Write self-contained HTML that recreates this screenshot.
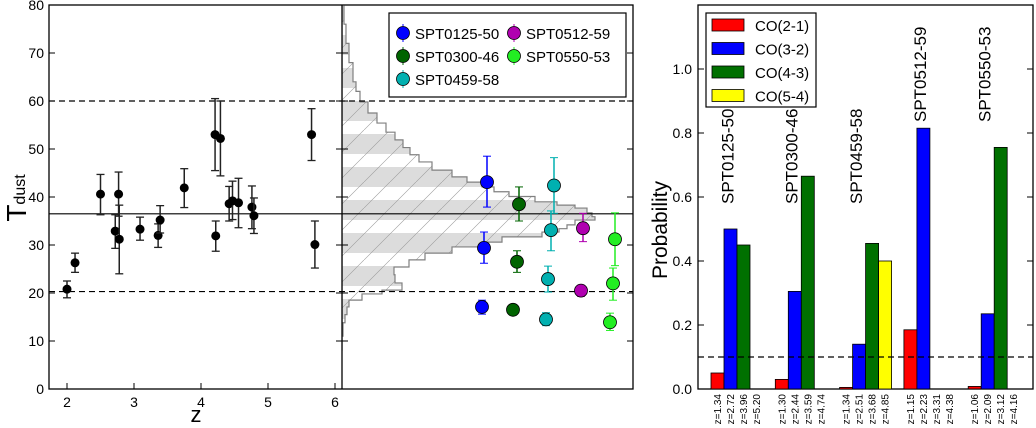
<!DOCTYPE html>
<html><head><meta charset="utf-8"><style>
body{margin:0;background:#fff;}
svg{display:block;font-family:"Liberation Sans",sans-serif;}
</style></head><body>
<svg id="c" width="1036" height="428" viewBox="0 0 1036 428">
<defs>
<pattern id="hatch" patternUnits="userSpaceOnUse" width="40" height="33" y="2">
<rect width="40" height="33" fill="#fff"/>
<rect y="0" width="40" height="20" fill="#dcdcdc"/>
</pattern>
<pattern id="diag" patternUnits="userSpaceOnUse" width="26" height="26">
<path d="M0 26 L26 0" stroke="#9a9a9a" stroke-width="0.6"/>
</pattern>
<clipPath id="midclip"><rect x="342" y="5" width="291" height="384"/></clipPath>
</defs>
<g id="g"></g>
</svg>
<script>
// ---- left panel data ----
const zVals=[2.0,2.12,2.5,2.72,2.77,2.78,3.09,3.36,3.39,3.75,4.21,4.29,4.22,4.42,4.47,4.56,4.76,4.79,5.65,5.70];
const tVals=[20.8,26.3,40.6,32.9,40.6,31.2,33.3,32.0,35.2,41.9,53.0,52.2,31.9,38.6,39.2,38.8,37.9,36.1,53.0,30.1];
const tLo=[19.0,24.3,36.3,29.3,36.0,24.0,31.0,29.5,32.5,37.8,45.5,44.4,28.7,35.0,35.3,33.6,33.4,32.4,47.6,25.2];
const tHi=[22.5,28.3,44.7,36.3,45.2,38.3,35.8,34.4,38.2,45.9,60.5,60.0,35.0,42.2,43.3,43.9,42.3,39.8,58.4,35.0];
const zTicks=[2,3,4,5,6];
const tTicks=[0,10,20,30,40,50,60,70,80];
const meanT=36.5, loT=20.3, hiT=60;
// ---- middle panel data (sources) ----
const srcNames=["SPT0125-50","SPT0300-46","SPT0459-58","SPT0512-59","SPT0550-53"];
const srcColors=["#0000ff","#006400","#00b0b0","#b000b0","#22ee22"];
const srcXpos=[[487,484,482],[519,517,513],[554,551,548,546],[583,581],[615,613,610]];
const srcT=[[43.1,29.4,17.1],[38.5,26.5,16.5],[42.4,33.1,22.9,14.5],[33.5,20.5],[31.2,22.0,13.9]];
const srcLo=[[37.9,26.2,15.6],[35.0,24.3,15.4],[36.6,28.8,20.2,13.2],[30.7,19.3],[25.7,18.5,12.2]];
const srcHi=[[48.5,32.7,18.5],[42.1,28.8,17.5],[48.2,37.1,25.6,15.9],[36.6,21.6],[36.7,25.2,15.8]];
// histogram outline (T value, width px)
const histT=[80,76,72,68,64,62,59.8,57.5,55.4,53.5,51.9,50.3,48.8,47.3,45.6,44.2,43.1,42.1,41.1,40.1,39.0,38.3,37.7,36.7,35.9,35.2,34.2,33.4,32.7,31.7,30.6,29.6,28.3,26.9,25.4,23.8,22.1,20.6,19.8,18.5,17.1,15.5,13.8,11,8];
const histW=[0,2,4,7,11,14,18,26,35,44,53,61,68,77,90,110,125,140,152,167,193,215,233,245,250,253,233,225,217,200,160,140,110,83,67,52,53,60,40,20,7,5,3,1,0];
// ---- right panel data ----
const groups=["SPT0125-50","SPT0300-46","SPT0459-58","SPT0512-59","SPT0550-53"];
const coNames=["CO(2-1)","CO(3-2)","CO(4-3)","CO(5-4)"];
const coColors=["#ff0000","#0000ff","#007000","#ffff00"];
const probs=[[0.05,0.50,0.45,0],[0.03,0.305,0.665,0],[0.005,0.14,0.455,0.40],[0.185,0.815,0,0],[0.008,0.235,0.755,0]];
const zLabels=[["z=1.34","z=2.72","z=3.96","z=5.20"],["z=1.30","z=2.44","z=3.59","z=4.74"],["z=1.34","z=2.51","z=3.68","z=4.85"],["z=1.15","z=2.23","z=3.31","z=4.38"],["z=1.06","z=2.09","z=3.12","z=4.16"]];
const labelHigh=[false,false,false,true,true];
const pTicks=[0,0.2,0.4,0.6,0.8,1.0];
const pThresh=0.1;

const NS="http://www.w3.org/2000/svg";
const G=document.getElementById('g');
function el(t,a,p){const e=document.createElementNS(NS,t);for(const k in a)e.setAttribute(k,a[k]);(p||G).appendChild(e);return e;}
const X=z=>67+(z-2)*67;
const Y=t=>389-t*4.8;
const PY=p=>389-p*320;

let f=el('rect',{x:49,y:5,width:584,height:384,fill:'none',stroke:'#000','stroke-width':1.3});


// histogram
let dStr='M342 '+Y(histT[0]);
for(let i=0;i<histT.length;i++){
 const y=Y(histT[i]), yp=i?Y(histT[i-1]):y;
 dStr+=' L'+(342+histW[i])+' '+yp+' L'+(342+histW[i])+' '+y;
}
dStr+=' L342 '+Y(histT[histT.length-1])+' Z';
const hg=el('g',{'clip-path':'url(#midclip)'});

el('path',{d:dStr,fill:'url(#hatch)'},hg);
el('path',{d:dStr,fill:'url(#diag)'},hg);
el('path',{d:dStr,fill:'none',stroke:'#808080','stroke-width':1.2},hg);

let d=el('line',{x1:342,y1:5,x2:342,y2:389,stroke:'#000','stroke-width':1.3});


[[meanT,'none','mean-temperature-line'],[loT,'6,4','lower-bound-line'],[hiT,'6,4','upper-bound-line']].forEach(r=>{
 const l=el('line',{x1:49,x2:633,y1:Y(r[0]),y2:Y(r[0]),stroke:'#000','stroke-width':1.2,'stroke-dasharray':r[1]});
 
});

tTicks.forEach(t=>{
 const y=Y(t);
 el('line',{x1:49,x2:55,y1:y,y2:y,stroke:'#000'});
 el('line',{x1:336,x2:348,y1:y,y2:y,stroke:'#000'});
 el('line',{x1:627,x2:633,y1:y,y2:y,stroke:'#000'});
 const tx=el('text',{x:44,y:y+5,'text-anchor':'end','font-size':14});tx.textContent=t;
 
});
zTicks.forEach(z=>{
 const x=X(z);
 el('line',{x1:x,x2:x,y1:389,y2:383,stroke:'#000'});
 const tx=el('text',{x:x,y:407,'text-anchor':'middle','font-size':14});tx.textContent=z;
 
});
let xl=el('text',{x:196,y:422,'text-anchor':'middle','font-size':22});xl.textContent='z';

let yl=el('text',{transform:'translate(26,198) rotate(-90)','text-anchor':'middle','font-size':28});
yl.innerHTML='T<tspan font-size="16" dy="-1">dust</tspan>';


for(let i=0;i<zVals.length;i++){
 const x=X(zVals[i]);
 const g=el('g',{});
 
 el('line',{x1:x,x2:x,y1:Y(tLo[i]),y2:Y(tHi[i]),stroke:'#222','stroke-width':1.5},g);
 el('line',{x1:x-4,x2:x+4,y1:Y(tLo[i]),y2:Y(tLo[i]),stroke:'#222','stroke-width':1.3},g);
 el('line',{x1:x-4,x2:x+4,y1:Y(tHi[i]),y2:Y(tHi[i]),stroke:'#222','stroke-width':1.3},g);
 el('circle',{cx:x,cy:Y(tVals[i]),r:4.5,fill:'#000'},g);
}
for(let s=0;s<srcNames.length;s++){
 for(let j=0;j<srcT[s].length;j++){
  const x=srcXpos[s][j],c=srcColors[s];
  const g=el('g',{});
  
  el('line',{x1:x,x2:x,y1:Y(srcLo[s][j]),y2:Y(srcHi[s][j]),stroke:c,'stroke-width':1.5},g);
  el('line',{x1:x-4,x2:x+4,y1:Y(srcLo[s][j]),y2:Y(srcLo[s][j]),stroke:c},g);
  el('line',{x1:x-4,x2:x+4,y1:Y(srcHi[s][j]),y2:Y(srcHi[s][j]),stroke:c},g);
  el('circle',{cx:x,cy:Y(srcT[s][j]),r:6.5,fill:c,stroke:'#000','stroke-width':0.8},g);
 }
}
const lg=el('g',{});
el('rect',{x:389,y:13,width:237,height:84,fill:'#fff',stroke:'#000','stroke-width':1.2},lg);
const legPos=[[403,33],[403,56],[403,79],[514,33],[514,56]];
srcNames.forEach((n,i)=>{
 const [x,y]=legPos[i];
 const e=el('g',{},lg);
 el('line',{x1:x,x2:x,y1:y-9,y2:y+9,stroke:srcColors[i]},e);
 el('circle',{cx:x,cy:y,r:6.5,fill:srcColors[i],stroke:'#000','stroke-width':0.8},e);
 const t=el('text',{x:x+12,y:y+6,'font-size':15},e);t.textContent=n;
});

let rf=el('rect',{x:698,y:5,width:335,height:384,fill:'none',stroke:'#000','stroke-width':1.3});

pTicks.forEach(p=>{
 const y=PY(p);
 el('line',{x1:698,x2:704,y1:y,y2:y,stroke:'#000'});
 el('line',{x1:1027,x2:1033,y1:y,y2:y,stroke:'#000'});
 const t=el('text',{x:692,y:y+5,'text-anchor':'end','font-size':14});t.textContent=p.toFixed(1);
 
});
let pl=el('text',{transform:'translate(667,230) rotate(-90)','text-anchor':'middle','font-size':21});pl.textContent='Probability';

const BW=13,G0=711,GS=64.3;
groups.forEach((gname,gi)=>{
 probs[gi].forEach((p,k)=>{
  const x=G0+gi*GS+k*BW;
  if(p>0){const r=el('rect',{x:x,y:PY(p),width:BW,height:389-PY(p),fill:coColors[k],stroke:'#000','stroke-width':0.8});
   
   }
  const t=el('text',{transform:'translate('+(x+BW/2+3.5)+',394) rotate(-90)','text-anchor':'end','font-size':10});
  t.textContent=zLabels[gi][k];
  
 });
 const lx=G0+gi*GS+BW*1.25+6, ly=labelHigh[gi]?122:204;
 const t=el('text',{transform:'translate('+lx+','+ly+') rotate(-90)','font-size':17});t.textContent=gname;
 
});
let th=el('line',{x1:698,x2:1033,y1:PY(pThresh),y2:PY(pThresh),stroke:'#000','stroke-dasharray':'6,4','stroke-width':1.2});

const cl=el('g',{});
el('rect',{x:706,y:13,width:110,height:94,fill:'#fff',stroke:'#000','stroke-width':1.2},cl);
coNames.forEach((n,i)=>{
 const y=25+i*23.5;
 const e=el('g',{},cl);
 el('rect',{x:712,y:y-6,width:32,height:12,fill:coColors[i],stroke:'#000','stroke-width':0.8},e);
 const t=el('text',{x:755,y:y+6,'font-size':15},e);t.textContent=n;
});
</script>
</body></html>
